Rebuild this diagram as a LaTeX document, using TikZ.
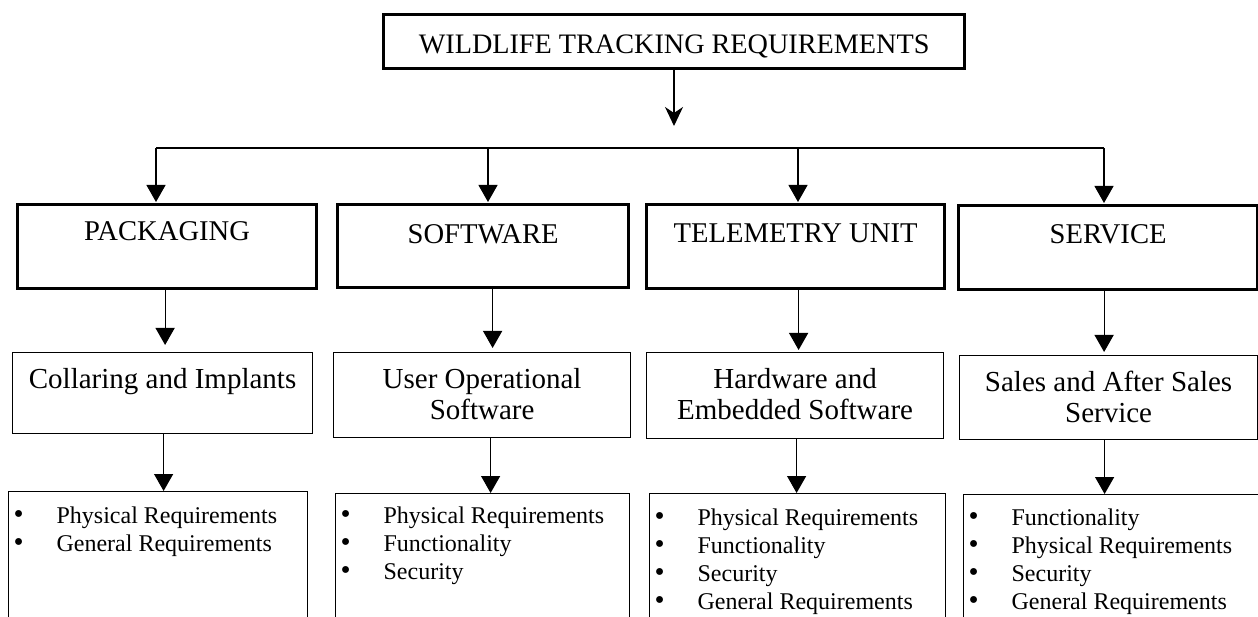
\documentclass[tikz,border=0pt]{standalone}
\usepackage{fontspec}
\setmainfont{Liberation Serif}
\usetikzlibrary{arrows.meta}

% fixed-size box body: width, height, gap above the first line, text
\newcommand\boxbody[4]{\parbox[t][#2][t]{#1}{\vspace*{#3}\centering #4\par}}
% fixed-size list body: width, height, gap above the first item, items
\newcommand\listbody[4]{\parbox[t][#2][t]{#1}{\vspace*{#3}\raggedright #4}}
\newcommand\itm[1]{\hspace*{5pt}\makebox[43pt][l]{\scalebox{1.2}{\textbullet}}\strut #1\par}

\begin{document}
\begin{tikzpicture}[x=1pt,y=-1pt,
  box/.style={draw, inner sep=0pt, anchor=north west},
  heavy/.style={box, line width=3.2pt},
  light/.style={box, line width=1.2pt},
  titlefont/.style={font=\fontsize{28.2}{33}\selectfont},
  headfont/.style={font=\fontsize{28.6}{33}\selectfont},
  subfont/.style={font=\fontsize{29}{31}\selectfont},
  listfont/.style={font=\fontsize{24}{28}\selectfont},
  link/.style={line width=1.2pt},
  tri/.style={link, -{Triangle[width=19pt,length=17pt]}},
  notch/.style={link, -{Stealth[width=18pt,length=19pt,inset=6pt]}}
]
\useasboundingbox (0,0) rectangle (1258,617);
\clip (0,0) rectangle (1258,617);

% top of the hierarchy
\node[heavy, titlefont] (title) at (382,13)
  {\boxbody{581pt}{54pt}{15.9pt}{\strut WILDLIFE TRACKING REQUIREMENTS}};

% main categories
\node[heavy, headfont] (pack) at (16,203)
  {\boxbody{299pt}{84pt}{12.9pt}{\strut PACKAGING}};
\node[heavy, headfont] (soft) at (336,203)
  {\boxbody{291pt}{83pt}{15.5pt}{\strut SOFTWARE}};
\node[heavy, headfont] (tele) at (645,203)
  {\boxbody{298pt}{84pt}{14.9pt}{\strut TELEMETRY UNIT}};
\node[heavy, headfont] (serv) at (957,204)
  {\boxbody{299pt}{84pt}{14.9pt}{\strut SERVICE}};

% sub-categories
\node[light, subfont] (coll) at (12,352)
  {\boxbody{300pt}{81pt}{13.8pt}{\strut Collaring and Implants}};
\node[light, subfont] (user) at (333,352)
  {\boxbody{297pt}{85pt}{13.8pt}{\strut User Operational\\\strut Software}};
\node[light, subfont] (hard) at (646,352)
  {\boxbody{297pt}{86pt}{14.3pt}{\strut Hardware and\\\strut Embedded Software}};
\node[light, subfont] (sales) at (959,355)
  {\boxbody{298pt}{84pt}{13.8pt}{\strut Sales and After Sales\\\strut Service}};

% requirement lists
\node[light, listfont] (req-pack) at (8,491)
  {\listbody{299pt}{140pt}{11.8pt}{\itm{Physical Requirements}\itm{General Requirements}}};
\node[light, listfont] (req-soft) at (335,493)
  {\listbody{294pt}{140pt}{10.6pt}{\itm{Physical Requirements}\itm{Functionality}\itm{Security}}};
\node[light, listfont] (req-hard) at (649,493)
  {\listbody{296pt}{140pt}{12pt}{\itm{Physical Requirements}\itm{Functionality}\itm{Security}\itm{General Requirements}}};
\node[light, listfont] (req-serv) at (963,494)
  {\listbody{320pt}{140pt}{11.4pt}{\itm{Functionality}\itm{Physical Requirements}\itm{Security}\itm{General Requirements}}};

% title arrow and distribution bus
\coordinate (tip) at (674,126);
\draw[notch] (title.south -| tip) -- (tip);
\coordinate (bus1) at (156,148);
\coordinate (bus2) at (488,148);
\coordinate (bus3) at (798,148);
\coordinate (bus4) at (1104,148);
\draw[link] (bus1) -- (bus4);
\draw[tri, shorten >=1pt] (bus1) -- (bus1 |- pack.north);
\draw[tri, shorten >=1pt] (bus2) -- (bus2 |- soft.north);
\draw[tri, shorten >=1pt] (bus3) -- (bus3 |- tele.north);
\draw[tri, shorten >=1pt] (bus4) -- (bus4 |- serv.north);

% categories to sub-categories
\coordinate (d1) at ([xshift=-2pt]pack.south);
\coordinate (d2) at ([xshift=9.5pt]soft.south);
\coordinate (d3) at ([xshift=3pt]tele.south);
\coordinate (d4) at ([xshift=-4pt]serv.south);
\draw[tri, shorten >=7pt] (d1) -- (d1 |- coll.north);
\draw[tri, shorten >=4pt] (d2) -- (d2 |- user.north);
\draw[tri, shorten >=2pt] (d3) -- (d3 |- hard.north);
\draw[tri, shorten >=3pt] (d4) -- (d4 |- sales.north);

% sub-categories to requirement lists
\coordinate (e1) at ([xshift=1pt]coll.south);
\coordinate (e2) at ([xshift=8.5pt]user.south);
\coordinate (e3) at ([xshift=1.5pt]hard.south);
\coordinate (e4) at ([xshift=-4pt]sales.south);
\draw[tri] (e1) -- (e1 |- req-pack.north);
\draw[tri] (e2) -- (e2 |- req-soft.north);
\draw[tri] (e3) -- (e3 |- req-hard.north);
\draw[tri] (e4) -- (e4 |- req-serv.north);
\end{tikzpicture}
\end{document}
